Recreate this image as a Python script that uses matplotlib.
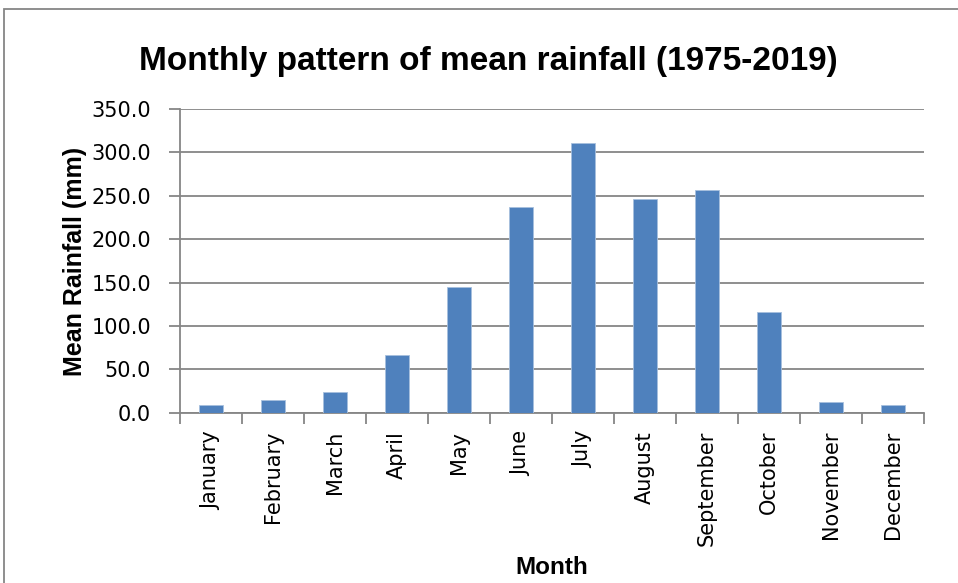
import matplotlib
matplotlib.use("Agg")
import matplotlib.pyplot as plt
from matplotlib.patches import Rectangle
from matplotlib.ticker import FixedLocator, FormatStrFormatter

# Mean monthly rainfall (mm), 1975-2019
months = ["January", "February", "March", "April", "May", "June",
          "July", "August", "September", "October", "November", "December"]
rainfall = [8.8, 14.6, 24.2, 66.5, 145.4, 236.5,
            310.8, 246.5, 256.9, 115.8, 11.9, 8.8]
y_ticks = [0, 50, 100, 150, 200, 250, 300, 350]

BAR = "#4F81BD"
GREY = "#868686"

W, H = 958, 583
fig = plt.figure(figsize=(W / 100, H / 100), dpi=100)

# chart area border (runs off the right and bottom edges)
fig.patches.append(Rectangle((4 / W, -0.05), 1.1, 1.05 - 9 / H,
                             transform=fig.transFigure, fill=False,
                             edgecolor=GREY, linewidth=1.3))

ax = fig.add_axes([180 / W, 1 - 412.7 / H, (924 - 180) / W, (412.7 - 109) / H])

x = list(range(len(months)))
ax.bar(x, rainfall, width=0.4, color=BAR, edgecolor="#A7C0DE",
       linewidth=0.6, zorder=3)

ax.set_xlim(-0.5, len(months) - 0.5)
ax.set_ylim(0, 350)

ax.set_yticks(y_ticks)
ax.yaxis.set_major_formatter(FormatStrFormatter("%.1f"))
ax.grid(axis="y", color=GREY, linewidth=1.3, zorder=0)

# category labels at the centres, tick marks on the boundaries
ax.set_xticks(x)
ax.set_xticklabels(months, rotation=90)
ax.xaxis.set_minor_locator(FixedLocator([i - 0.5 for i in range(len(months) + 1)]))
ax.tick_params(axis="x", which="major", length=0, pad=13, labelsize=15)
ax.tick_params(axis="x", which="minor", length=8, width=1.3, color=GREY)
ax.tick_params(axis="y", length=8, width=1.3, color=GREY, pad=13, labelsize=15)

for side in ["top", "right"]:
    ax.spines[side].set_visible(False)
for side in ["left", "bottom"]:
    ax.spines[side].set_color(GREY)
    ax.spines[side].set_linewidth(1.3)

ax.set_ylabel("Mean Rainfall (mm)", fontsize=18, fontweight="bold",
              family="Liberation Sans")
ax.yaxis.label.set_va("center")
ax.yaxis.set_label_coords(75 / W, 1 - 261 / H, transform=fig.transFigure)
ax.set_xlabel("Month", fontsize=17.5, fontweight="bold", family="Liberation Sans")
ax.xaxis.label.set_va("center")
ax.xaxis.set_label_coords(552 / W, 1 - 567 / H, transform=fig.transFigure)

fig.text(488.5 / W, 1 - 70 / H, "Monthly pattern of mean rainfall (1975-2019)",
         ha="center", va="baseline", fontsize=24, fontweight="bold",
         family="Liberation Sans")

fig.savefig("out.png", dpi=100)
